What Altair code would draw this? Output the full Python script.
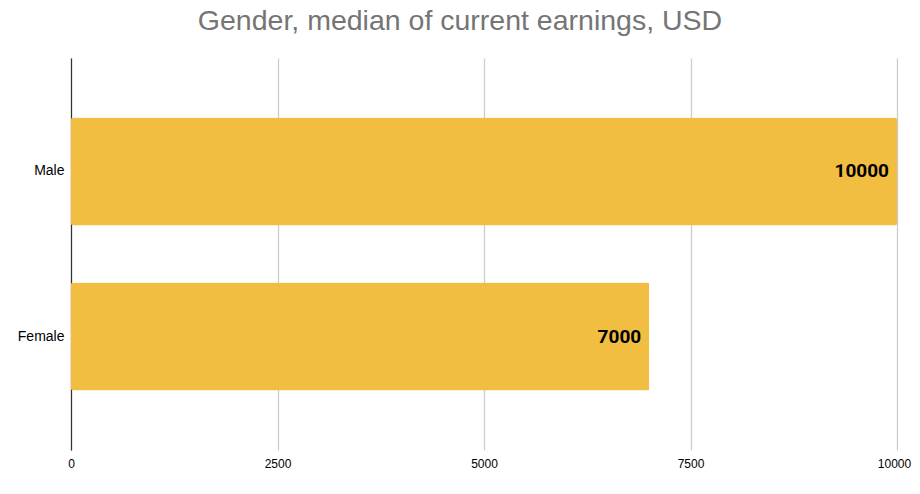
import altair as alt
import pandas as pd

categories = ["Male", "Female"]
values = [10000, 7000]
x_ticks = [0, 2500, 5000, 7500, 10000]

df = pd.DataFrame({"gender": categories, "earnings": values})

base = alt.Chart(df).encode(
    y=alt.Y("gender:N", sort=categories, title=None,
            scale=alt.Scale(paddingInner=0.345, paddingOuter=0.36),
            axis=alt.Axis(domain=True, domainColor="#333333", domainWidth=1.2,
                          ticks=False, labelFont="Liberation Sans", labelFontSize=14,
                          labelColor="#000000", labelPadding=7, grid=False)),
    x=alt.X("earnings:Q", title=None,
            scale=alt.Scale(domain=[0, 10000], nice=False),
            axis=alt.Axis(values=x_ticks, domain=False, ticks=False, grid=True,
                          gridColor="#cccccc", gridWidth=1.3,
                          labelFont="Liberation Sans", labelFontSize=12,
                          labelColor="#000000", labelPadding=8,
                          labelFlush=False, format="d",
                          labelOffset=alt.expr("datum.value == 10000 ? -3 : 0"))),
)

bars = base.mark_bar(color="#F1BE42", cornerRadius=2)
labels = base.mark_text(align="right", baseline="middle", dx=-8,
                        font="Roboto", fontSize=19, fontWeight="bold",
                        color="#000000").encode(text=alt.Text("earnings:Q", format="d"))

chart = (bars + labels).properties(
    width=826, height=392,
    title=alt.TitleParams("Gender, median of current earnings, USD",
                          font="Liberation Sans", fontSize=28.5, fontWeight="normal",
                          color="#757575", anchor="middle", dx=-24, offset=23),
    autosize=alt.AutoSizeParams(type="none"),
    padding={"left": 63, "top": 50, "right": 15, "bottom": 28},
).configure_view(stroke=None)

chart.save("out.html", embed_options={"renderer": "svg", "actions": False})
